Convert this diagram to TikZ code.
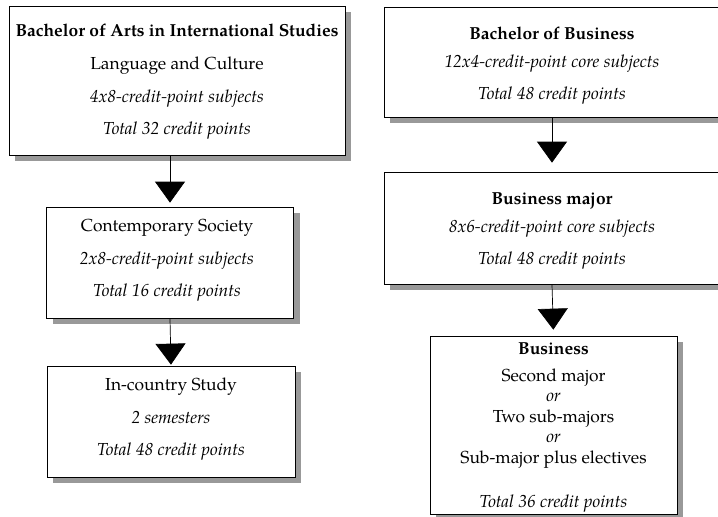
\documentclass[tikz,border=0pt]{standalone}
\usepackage{fontspec}
\setmainfont{texgyrepagella}[Extension=.otf,UprightFont=*-regular,BoldFont=*-bold,ItalicFont=*-italic,BoldItalicFont=*-bolditalic]
\usetikzlibrary{arrows.meta,shadows}
\begin{document}
\begin{tikzpicture}[x=1pt,y=-1pt,
  box/.style={draw=black,line width=0.7pt,fill=white,inner sep=0pt,
    drop shadow={shadow xshift=6pt,shadow yshift=-6pt,fill=black!40,opacity=1}},
  txt/.style={inner sep=0pt,align=center,font=\fontsize{17.4}{20.5}\selectfont},
  flow/.style={line width=0.7pt,-{Triangle[width=30pt,length=21pt]}}]
\useasboundingbox (0,0) rectangle (718,517);

% Bachelor of Arts column
\node[box,minimum width=336pt,minimum height=149pt] (ba) at (177,80.5) {};
\node[txt,yshift=-1pt] (ba-t) at (ba.center)
  {\textbf{Bachelor of Arts in International Studies}\\[12.5pt]
   Language and Culture\\[12.5pt]
   \textit{4x8-credit-point subjects}\\[11.5pt]
   \textit{Total 32 credit points}};
\node[box,minimum width=247pt,minimum height=111pt] (cs) at (170,262.5) {};
\node[txt,xshift=-3pt,yshift=2pt] (cs-t) at (cs.center)
  {Contemporary Society\\[12.5pt]
   \textit{2x8-credit-point subjects}\\[11.5pt]
   \textit{Total 16 credit points}};
\node[box,minimum width=248pt,minimum height=111pt] (ic) at (171,421.5) {};
\node[txt,yshift=2pt] (ic-t) at (ic.center)
  {In-country Study\\[12.5pt]
   \textit{2 semesters}\\[11.5pt]
   \textit{Total 48 credit points}};

% Bachelor of Business column
\node[box,minimum width=336pt,minimum height=110pt] (bb) at (552,62) {};
\node[txt,yshift=-4pt] (bb-t) at (bb.center)
  {\textbf{Bachelor of Business}\\[7.5pt]
   \textit{12x4-credit-point core subjects}\\[11.5pt]
   \textit{Total 48 credit points}};
\node[box,minimum width=336pt,minimum height=112pt] (bm) at (552,228) {};
\node[txt,yshift=-3pt] (bm-t) at (bm.center)
  {\textbf{Business major}\\[7.5pt]
   \textit{8x6-credit-point core subjects}\\[11.5pt]
   \textit{Total 48 credit points}};
\node[box,minimum width=247pt,minimum height=178pt] (bs) at (553.5,425) {};
\node[txt,yshift=-2pt] (bs-t) at (bs.center)
  {\textbf{Business}\\[6.5pt]
   Second major\\
   \textit{or}\\
   Two sub-majors\\
   \textit{or}\\
   Sub-major plus electives\\[23.5pt]
   \textit{Total 36 credit points}};

% connectors
\draw[flow,shorten >=4pt] (ba.south -| cs.north) -- (cs.north);
\draw[flow,shorten >=1pt] (cs.south) -- (ic.north);
\draw[flow,shorten >=9pt] (bb.south) -- (bm.north);
\draw[flow,shorten >=6pt] (bm.south) -- (bs.north);
\end{tikzpicture}
\end{document}
